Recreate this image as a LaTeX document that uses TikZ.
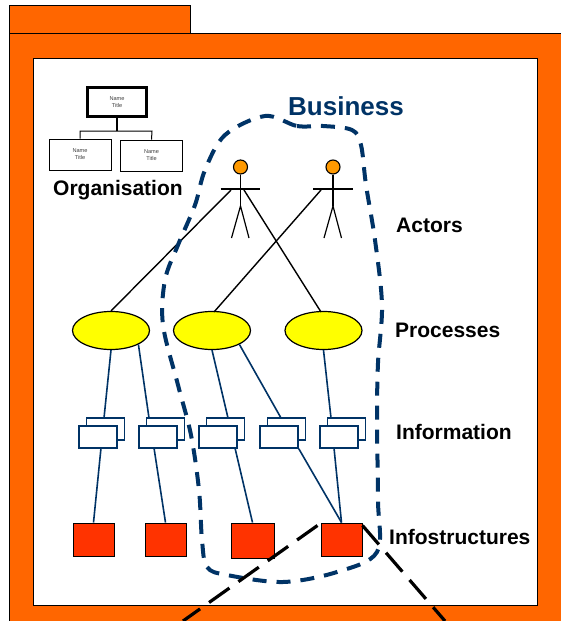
\documentclass[tikz,border=0pt]{standalone}
\usepackage{fontspec}
\setmainfont{Liberation Sans}
\usetikzlibrary{shapes.geometric,calc}
\definecolor{frameor}{HTML}{FF6600}
\definecolor{navy}{HTML}{003366}
\definecolor{procy}{HTML}{FFFF00}
\definecolor{infred}{HTML}{FF3300}
\definecolor{heador}{HTML}{FF9900}
\tikzset{
 framebox/.style={draw=black,line width=1pt,fill=frameor},
 orgbox/.style={draw=black,line width=.9pt,fill=white,inner sep=0pt,minimum width=62pt,minimum height=31pt,align=center,font=\fontsize{5.6}{7}\selectfont,text=black!75},
 orgtop/.style={orgbox,line width=3pt,minimum width=59pt,minimum height=29pt},
 orgline/.style={draw=black,line width=1pt},
 proc/.style={ellipse,draw=black,line width=1.2pt,fill=procy,inner sep=0pt,minimum width=77pt,minimum height=38pt},
 doc/.style={rectangle,draw=navy,line width=1.7pt,fill=white,inner sep=0pt,minimum width=38pt,minimum height=22pt},
 infra/.style={rectangle,draw=black,line width=1pt,fill=infred,inner sep=0pt,minimum width=41pt,minimum height=33pt},
 link/.style={draw=navy,line width=1.6pt},
 actorlink/.style={draw=black,line width=1.4pt},
 stick/.style={draw=black,line width=1.2pt},
 head/.style={circle,draw=black,line width=1.1pt,fill=heador,inner sep=0pt,minimum size=14pt},
 lab/.style={font=\fontsize{21}{24}\selectfont\bfseries,inner sep=0pt,anchor=west},
 zoomline/.style={draw=black,line width=3.2pt,dash pattern=on 25pt off 11pt},
 bizline/.style={draw=navy,line width=4pt,dash pattern=on 14pt off 10pt}
}
\begin{document}
\begin{tikzpicture}[x=1pt,y=-1pt]
\useasboundingbox (0,0) rectangle (560,621);
% folder
\draw[framebox] (9,5) rectangle (190,33.5);
\draw[framebox] (9,33.5) rectangle (575,640);
\fill[white] (33,58) rectangle (537,605);
\draw[black,line width=1pt] (33,605) -- (33,58) -- (537,58) -- (537,605) -- cycle;
% organisation
\node[orgtop] (otop) at (117,102) {Name\\Title};
\node[orgbox] (oa) at (80,154.5) {Name\\Title};
\node[orgbox] (ob) at (151.5,155.5) {Name\\Title};
\coordinate (oj) at (117,131);
\coordinate (ojl) at (80,131);
\coordinate (ojr) at (152,131);
\draw[orgline,line width=2pt] (otop.south) -- (oj);
\draw[orgline] (oa.north) -- (ojl) -- (ojr) -- (ob.north);
\node[lab] (olab) at (53,190.5) {Organisation};
% processes
\node[proc] (p1) at (111,330.5) {};
\node[proc] (p2) at (212,330.5) {};
\node[proc] (p3) at (323.5,330.5) {};
% documents
\foreach \n/\x in {1/98,2/158,3/218,4/279,5/339}{
 \node[doc] (db\n) at ($(\x,429)+(7.5,0)$) {};
 \node[doc] (d\n) at (\x,437) {};
}
% infrastructure
\node[infra] (s1) at (93.5,539.5) {};
\node[infra] (s2) at (165.5,539.5) {};
\node[infra,minimum width=43pt,minimum height=35pt] (s3) at (252.5,540.5) {};
\node[infra] (s4) at (341.5,539.5) {};
% actors
\foreach \n/\x in {1/240.5,2/333}{
 \node[head] (h\n) at (\x,167) {};
 \coordinate (hip\n) at (\x,206);
 \coordinate (al\n) at ($(\x,189)+(-20,0)$);
 \coordinate (ar\n) at ($(\x,189)+(19.5,0)$);
 \coordinate (fl\n) at ($(\x,238)+(-9,0)$);
 \coordinate (fr\n) at ($(\x,238)+(8.5,0)$);
 \draw[stick] (h\n.south) -- (hip\n);
 \draw[stick] (al\n) -- (ar\n);
 \draw[stick] (fl\n) -- (hip\n) -- (fr\n);
}
\coordinate (a1l) at (231,190);
\coordinate (a1r) at (244,190);
\coordinate (a2l) at (321,190);
% actor links
\draw[actorlink] (a1l) -- (p1.north);
\draw[actorlink] (a1r) -- (321,312) coordinate (p3t);
\draw[actorlink] (a2l) -- (214,312) coordinate (p2t);
% links
\draw[link] (p1.south) -- (104,418);
\draw[link] (p1.-27) -- (149,418);
\draw[link] (p2.south) -- (228,418);
\draw[link] (p2.-27) -- (281,418);
\draw[link] (p3.south) -- (331,418);
\draw[link] (101,448) -- (s1.north);
\draw[link] (154,448) -- (s2.north);
\draw[link] (235,448) -- (s3.north);
\draw[link] (d4.south east) -- (s4.north);
\draw[link] (334,448) -- (s4.north);
% business boundary
\draw[bizline] plot[smooth cycle,tension=.55] coordinates {
 (265,116) (297,126) (323,126) (352,130) (361,145) (366,185) (375,240) (382,305) (378,363) (377,420) (378,500) (377,552)
 (337,572) (283,582) (227,575) (207,567) (202,540) (199,490) (191,435) (178,385) (163,325) (165,280) (178,245) (195,205) (205,170) (225,135)};
% zoom lines
\coordinate (zl) at (183,621);
\coordinate (zr) at (445,621);
\draw[zoomline] (s4.north west) ++(-3,3) -- (zl);
\draw[zoomline] (s4.north east) ++(0,3) -- (zr);
% labels
\node[font=\fontsize{26}{30}\selectfont\bfseries,text=navy,inner sep=0pt] (biz) at (346,106) {Business};
\node[lab] (l1) at (396,225) {Actors};
\node[lab] (l2) at (395,330) {Processes};
\node[lab] (l3) at (396,432) {Information};
\node[lab] (l4) at (389,537) {Infostructures};
\end{tikzpicture}
\end{document}
